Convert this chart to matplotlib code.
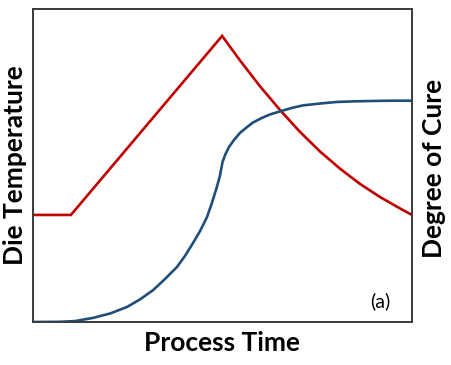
import matplotlib
matplotlib.use("Agg")
import matplotlib.pyplot as plt

# die temperature profile (arbitrary units, time 0-100)
temp_time = [0, 10.0, 49.9, 54.6, 59.9, 65.2, 70.4, 75.7, 81.0, 86.3, 91.6, 96.8, 100]
temp_vals = [34.2, 34.2, 91.4, 83.6, 75.3, 67.7, 60.8, 54.5, 49.0, 44.1, 39.9, 36.3, 34.2]

# degree of cure
cure_time = [0, 7.1, 11.1, 15.8, 20.3, 24.8, 28.2, 31.7, 34.8, 38.0, 40.1, 42.2, 44.1, 45.9,
             47.2, 48.5, 49.3, 50.0, 50.7, 51.7, 53.0, 54.6, 56.5, 58.0, 60.4, 62.5, 65.2,
             68.3, 71.2, 75.7, 80.2, 85.0, 88.9, 94.2, 100]
cure_vals = [0, 0.06, 0.3, 1.3, 2.7, 4.8, 7.2, 10.2, 13.7, 17.6, 21.1, 25.2, 29.1, 33.5,
             38.0, 43.1, 46.6, 51.1, 53.4, 55.9, 58.1, 60.4, 62.3, 63.7, 65.2, 66.3, 67.3,
             68.4, 69.2, 69.8, 70.3, 70.5, 70.6, 70.7, 70.7]

red = "#C00000"
blue = "#1F4E79"

fig = plt.figure(figsize=(4.51, 3.65), dpi=100)
ax = fig.add_axes([33/451, 1 - 322/365, 379/451, 313/365])
ax.plot(temp_time, temp_vals, color=red, lw=1.9, solid_joinstyle="miter")
ax2 = ax.twinx()
ax2.plot(cure_time, cure_vals, color=blue, lw=1.9, solid_joinstyle="round")

for a in (ax, ax2):
    a.set_xlim(0, 100)
    a.set_ylim(0, 100)
    a.set_xticks([])
    a.set_yticks([])
    for s in a.spines.values():
        s.set_color("#3a3a3a")
        s.set_linewidth(1.2)

font = ["Lato", "DejaVu Sans"]
fig.text(222/451, 1 - 343/365, "Process Time", ha="center", va="center",
         fontsize=19, fontweight="bold", family=font)
fig.text(15/451, 1 - 165/365, "Die Temperature", ha="center", va="center", rotation=90,
         fontsize=19, fontweight="bold", family=font)
fig.text(434/451, 1 - 168/365, "Degree of Cure", ha="center", va="center", rotation=90,
         fontsize=19, fontweight="bold", family=font)
ax.text(0.915, 0.066, "(a)", transform=ax.transAxes, ha="center", va="center",
        fontsize=14, family=font)

fig.savefig("out.png", dpi=100)
